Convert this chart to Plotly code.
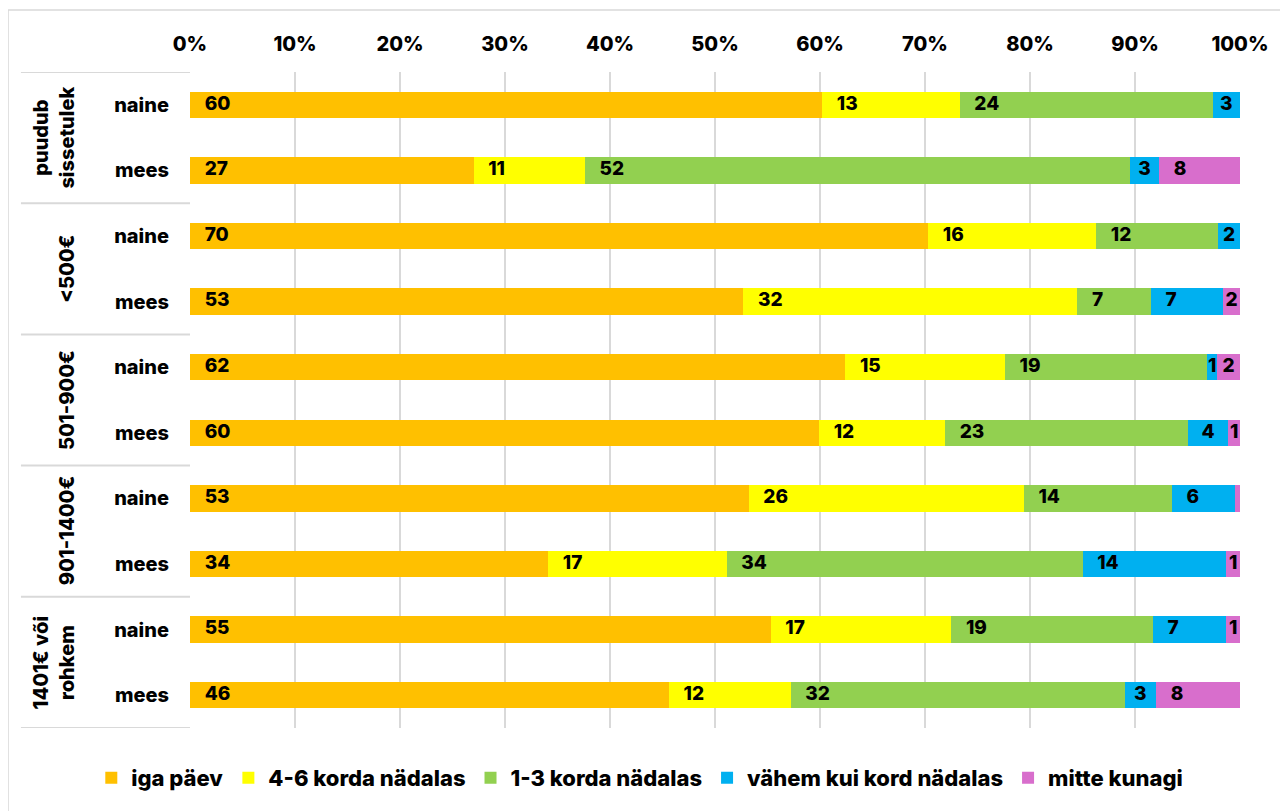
import plotly.graph_objects as go

groups = ["puudub<br>sissetulek", "<500€", "501-900€", "901-1400€", "1401€ või<br>rohkem"]
genders = ["naine", "mees"]
row_labels = [g for _ in groups for g in genders]

series_names = ["iga päev", "4-6 korda nädalas", "1-3 korda nädalas", "vähem kui kord nädalas", "mitte kunagi"]
series_colors = ["#FFC000", "#FFFF00", "#92D050", "#00B0F0", "#D86ECC"]

iga_paev = [60.2, 27.0, 70.3, 52.7, 62.4, 59.9, 53.2, 34.1, 55.3, 45.6]
korda_4_6 = [13.1, 10.6, 16.0, 31.8, 15.2, 12.0, 26.2, 17.0, 17.2, 11.6]
korda_1_3 = [24.1, 51.9, 11.6, 7.0, 19.3, 23.1, 14.1, 33.9, 19.2, 31.8]
vahem = [2.6, 2.8, 2.1, 6.9, 0.9, 3.9, 6.0, 13.7, 7.0, 3.0]
mitte = [0.0, 7.7, 0.0, 1.6, 2.2, 1.1, 0.5, 1.3, 1.3, 8.0]
series_values = [iga_paev, korda_4_6, korda_1_3, vahem, mitte]

ticks_x = list(range(0, 101, 10))

rows = list(range(len(row_labels)))
FONT = "Inter"
WEIGHT = 800

fig = go.Figure()
for name, color, vals in zip(series_names, series_colors, series_values):
    fig.add_trace(go.Bar(
        y=rows, x=vals, name=name, orientation="h",
        marker=dict(color=color, line=dict(width=0)),
        width=0.4, hoverinfo="skip",
    ))

# data labels
lx, ly, lt, lp = [], [], [], []
cum = [0.0] * len(rows)
for vals in series_values:
    for i, v in enumerate(vals):
        if v >= 0.8:
            if v >= 5:
                lx.append(cum[i] + 1.4)
                lp.append("middle right")
            else:
                lx.append(cum[i] + v / 2)
                lp.append("middle center")
            ly.append(i)
            lt.append(f"{round(v):d}")
        cum[i] += v
fig.add_trace(go.Scatter(
    x=lx, y=ly, text=lt, mode="text", textposition=lp,
    textfont=dict(family=FONT, size=19, color="black", weight=WEIGHT),
    showlegend=False, hoverinfo="skip", cliponaxis=False,
))

fig.update_layout(
    barmode="stack",
    width=1280, height=803,
    margin=dict(l=182, r=48, t=64, b=83),
    paper_bgcolor="white", plot_bgcolor="white",
    font=dict(family=FONT, size=20, color="black", weight=WEIGHT),
    legend=dict(orientation="h", x=-0.094, xanchor="left", y=-0.076, yanchor="middle",
                font=dict(size=22, weight=WEIGHT), traceorder="normal"),
    showlegend=True,
)
fig.update_xaxes(
    side="top", range=[0, 100], tickvals=ticks_x, ticktext=[f"{t}%" for t in ticks_x],
    showgrid=True, gridcolor="#d9d9d9", gridwidth=2, zeroline=False, showline=False,
    ticklabelstandoff=16, fixedrange=True,
    tickfont=dict(family=FONT, size=20, weight=WEIGHT),
)
fig.update_yaxes(
    range=[len(rows) - 0.5, -0.5], tickvals=rows, ticktext=row_labels,
    showgrid=False, zeroline=False, showline=False, ticklabelstandoff=20,
    tickfont=dict(family=FONT, size=20, weight=WEIGHT),
)

# group labels and dividers
for gi, g in enumerate(groups):
    fig.add_annotation(
        x=(81 - 190) / 1050, xref="paper", xanchor="right",
        y=gi * 2 + 0.5, yref="y", yanchor="middle",
        text=g, textangle=-90, showarrow=False,
        font=dict(family=FONT, size=20, color="black", weight=WEIGHT),
    )
for k in range(len(groups) + 1):
    yv = k * 2 - 0.5
    fig.add_shape(type="line", xref="paper", yref="y", x0=-0.161, x1=0, y0=yv, y1=yv,
                  line=dict(color="#d9d9d9", width=2))

# outer border (top and left)
fig.add_shape(type="line", xref="paper", yref="paper", x0=-0.1733, x1=1.1, y0=1.0945, y1=1.0945,
              line=dict(color="#d9d9d9", width=1.5))
fig.add_shape(type="line", xref="paper", yref="paper", x0=-0.1733, x1=-0.1733, y0=-0.2, y1=1.0945,
              line=dict(color="#d9d9d9", width=1.5))

fig.write_html("out.html")
